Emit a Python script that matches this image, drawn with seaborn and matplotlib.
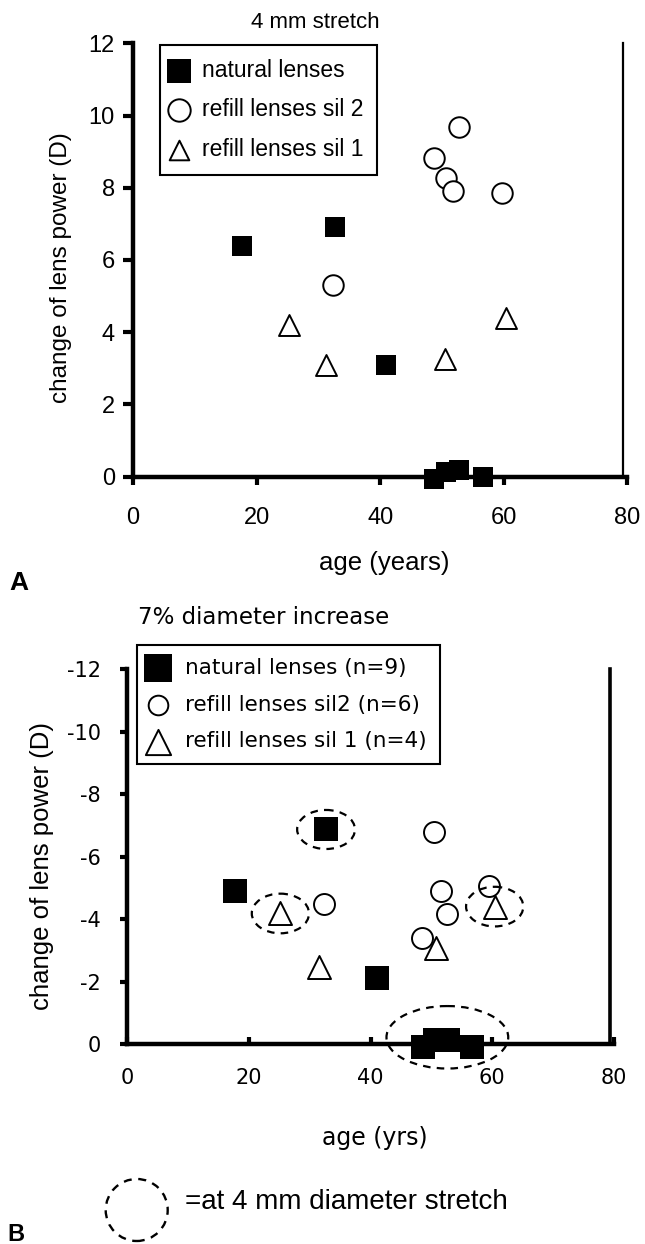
import numpy as np
import pandas as pd
import matplotlib
matplotlib.use("Agg")
import matplotlib.pyplot as plt
import seaborn as sns
from matplotlib.patches import Ellipse

# ---------------- data ----------------
# Panel A: 4 mm stretch, change of lens power (D) vs age (years)
a_nat_age = [17.7, 32.7, 41.0, 48.7, 50.6, 52.7, 56.6]
a_nat_dp = [6.4, 6.9, 3.1, -0.07, 0.14, 0.19, 0.0]
a_sil2_age = [52.7, 48.7, 50.7, 51.7, 59.7, 32.3]
a_sil2_dp = [9.67, 8.82, 8.27, 7.9, 7.85, 5.32]
a_sil1_age = [25.2, 31.2, 50.5, 60.4]
a_sil1_dp = [4.2, 3.1, 3.26, 4.4]

# Panel B: 7% diameter increase
b_nat_age = [17.7, 32.7, 41.1, 48.6, 50.6, 52.7, 56.6]
b_nat_dp = [-4.9, -6.87, -2.12, 0.1, -0.13, -0.13, 0.1]
b_sil2_age = [50.5, 51.5, 59.5, 32.4, 52.5, 48.5]
b_sil2_dp = [-6.8, -4.9, -5.06, -4.48, -4.16, -3.38]
b_sil1_age = [25.2, 60.4, 50.7, 31.5]
b_sil1_dp = [-4.18, -4.4, -3.06, -2.48]

# points in B reached at 4 mm diameter stretch (dashed rings)
b_ring_nat = [1]
b_ring_sil1 = [0, 1]
b_ring_group_nat = [3, 4, 5, 6]

xticks = [0, 20, 40, 60, 80]
a_yticks = [0, 2, 4, 6, 8, 10, 12]
b_yticks = [0, -2, -4, -6, -8, -10, -12]

a_labels = ["natural lenses", "refill lenses sil 2", "refill lenses sil 1"]
b_labels = ["natural lenses (n=9)", "refill lenses sil2 (n=6)", "refill lenses sil 1 (n=4)"]

# ---------------- style ----------------
sns.set_style("white")
plt.rcParams["font.family"] = ["Liberation Sans", "DejaVu Sans"]
plt.rcParams["axes.unicode_minus"] = False
for k in ("text.color", "axes.labelcolor", "xtick.color", "ytick.color",
          "xtick.labelcolor", "ytick.labelcolor"):
    plt.rcParams[k] = "black"
SPACED = ["DejaVu Sans"]

W, H = 645, 1244
fig = plt.figure(figsize=(W / 100, H / 100), dpi=100)

def fx(px):
    return px / W

def fy(py):
    return 1 - py / H

axA = fig.add_axes([fx(133), fy(476.7), 494.4 / W, 433.4 / H])
axB = fig.add_axes([fx(127), fy(1044), 487 / W, 374.7 / H])

dfA = {
    "nat": pd.DataFrame({"age": a_nat_age, "dp": a_nat_dp}),
    "sil2": pd.DataFrame({"age": a_sil2_age, "dp": a_sil2_dp}),
    "sil1": pd.DataFrame({"age": a_sil1_age, "dp": a_sil1_dp}),
}
dfB = {
    "nat": pd.DataFrame({"age": b_nat_age, "dp": b_nat_dp}),
    "sil2": pd.DataFrame({"age": b_sil2_age, "dp": b_sil2_dp}),
    "sil1": pd.DataFrame({"age": b_sil1_age, "dp": b_sil1_dp}),
}

def draw(ax, d, labels, sizes):
    sns.scatterplot(data=d["nat"], x="age", y="dp", marker="s", s=sizes[0],
                    color="black", edgecolor="black", linewidth=0, ax=ax,
                    label=labels[0], clip_on=False, zorder=3)
    sns.scatterplot(data=d["sil2"], x="age", y="dp", marker="o", s=sizes[1],
                    facecolor="white", edgecolor="black", linewidth=1.4, ax=ax,
                    label=labels[1], clip_on=False, zorder=3)
    sns.scatterplot(data=d["sil1"], x="age", y="dp", marker="^", s=sizes[2],
                    facecolor="white", edgecolor="black", linewidth=1.4, ax=ax,
                    label=labels[2], clip_on=False, zorder=3)

draw(axA, dfA, a_labels, [207, 218, 228])
draw(axB, dfB, b_labels, [275, 228, 275])

for ax in (axA, axB):
    ax.set_xlim(0, 80)
    ax.set_xticks(xticks)
    ax.spines["top"].set_visible(False)
    for s in ("left", "bottom"):
        ax.spines[s].set_linewidth(3.2)
        ax.spines[s].set_color("black")
    ax.spines["right"].set_color("black")
    ax.patch.set_alpha(0)

axA.spines["right"].set_linewidth(1.6)
axA.spines["right"].set_position(("data", 79.3))
axB.spines["right"].set_linewidth(2.6)
axB.spines["right"].set_position(("data", 79.4))

# Panel A axes
axA.set_ylim(0, 12)
axA.set_yticks(a_yticks)
axA.tick_params(axis="x", direction="out", length=6, width=3, pad=16,
                labelsize=17, colors="black", bottom=True)
axA.tick_params(axis="y", direction="out", length=7, width=3, pad=6,
                labelsize=17, colors="black", left=True)
axA.set_xlabel("age (years)", fontsize=18.5)
axA.xaxis.label.set_verticalalignment("center")
axA.xaxis.set_label_coords((384 - 133) / 494.4, (476.7 - 563) / 433.4)
axA.set_ylabel("change of lens power (D)", fontsize=17.5)
axA.yaxis.label.set_verticalalignment("center")
axA.yaxis.set_label_coords((61 - 133) / 494.4, (476.7 - 268) / 433.4)

# Panel B axes (inverted)
axB.set_ylim(0, -12)
axB.set_yticks(b_yticks)
axB.tick_params(axis="x", direction="in", length=5, width=3, pad=17,
                labelsize=15, colors="black", bottom=True)
axB.tick_params(axis="y", direction="out", length=5, width=3, pad=14,
                labelsize=15, colors="black", left=True)
for lab in axB.get_xticklabels() + axB.get_yticklabels():
    lab.set_family(SPACED)
axB.set_xlabel("age (yrs)", fontsize=17, family=SPACED)
axB.xaxis.label.set_verticalalignment("center")
axB.xaxis.set_label_coords((375 - 127) / 487, (1044 - 1138) / 374.7)
axB.set_ylabel("change of lens power (D)", fontsize=18.5)
axB.yaxis.label.set_verticalalignment("center")
axB.yaxis.set_label_coords((41.5 - 127) / 487, (1044 - 866) / 374.7)

# Legends
legA = axA.legend(loc="upper left", bbox_to_anchor=(fx(160), fy(45)),
                  bbox_transform=fig.transFigure, borderaxespad=0,
                  fontsize=16.5, frameon=True, fancybox=False, framealpha=1,
                  edgecolor="black", borderpad=0.6, handlelength=0.5,
                  handletextpad=0.72, labelspacing=0.72, scatterpoints=1)
legA.get_frame().set_linewidth(1.5)
for h, s in zip(legA.legend_handles, [300, 260, 200]):
    h.set_sizes([s])

legB = axB.legend(loc="upper left", bbox_to_anchor=(fx(136.7), fy(645)),
                  bbox_transform=fig.transFigure, borderaxespad=0,
                  prop={"family": SPACED, "size": 15.5}, frameon=True,
                  fancybox=False, framealpha=1, edgecolor="black",
                  borderpad=0.6, handlelength=0.75, handletextpad=0.9,
                  labelspacing=0.78, scatterpoints=1)
legB.get_frame().set_linewidth(1.5)
for h, s in zip(legB.legend_handles, [380, 200, 330]):
    h.set_sizes([s])

# Dashed rings in B
ring_kw = dict(fill=False, edgecolor="black", linewidth=1.6,
               linestyle=(0, (3.4, 2.8)), zorder=4, clip_on=False)
for i in b_ring_nat:
    axB.add_patch(Ellipse((b_nat_age[i], b_nat_dp[i]), 9.5, 1.25, **ring_kw))
for i in b_ring_sil1:
    axB.add_patch(Ellipse((b_sil1_age[i], b_sil1_dp[i]), 9.4, 1.27, **ring_kw))
gx = np.mean([b_nat_age[i] for i in b_ring_group_nat])
gy = np.mean([b_nat_dp[i] for i in b_ring_group_nat])
axB.add_patch(Ellipse((gx + 0.5, gy - 0.2), 20, 2.0, **ring_kw))

# Footer key
key = Ellipse((fx(136.7), fy(1210)), 62 / W, 62 / H, transform=fig.transFigure,
              fill=False, edgecolor="black", linewidth=1.7,
              linestyle=(0, (3.4, 2.8)))
fig.add_artist(key)
fig.text(fx(185), fy(1202), "=at 4 mm diameter stretch", fontsize=20,
         ha="left", va="center")

# Titles and panel letters
fig.text(fx(315), fy(22), "4 mm stretch", fontsize=16, ha="center", va="center")
fig.text(fx(138), fy(618), "7% diameter increase", fontsize=16.5, ha="left",
         va="center", family=SPACED)
fig.text(fx(9), fy(583), "A", fontsize=19, fontweight="bold", ha="left", va="center")
fig.text(fx(7), fy(1223), "B", fontsize=17, fontweight="bold", ha="left", va="top")

fig.savefig("out.png", dpi=100)
